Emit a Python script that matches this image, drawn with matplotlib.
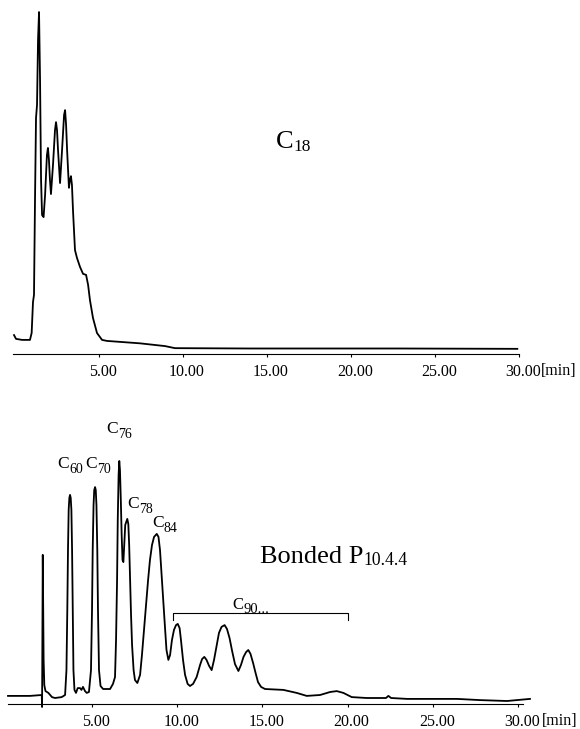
import matplotlib
matplotlib.use('Agg')
import matplotlib.pyplot as plt
import matplotlib.transforms as mtransforms
import numpy as np

plt.rcParams['font.family'] = ['Liberation Serif', 'DejaVu Serif']

# C18 column trace (time in min, detector response in arbitrary units)
c18_time = [-0.06, 0.06, 0.42, 0.89, 0.99, 1.07, 1.13, 1.19, 1.25, 1.31, 1.37, 1.43,
            1.49, 1.55, 1.61, 1.70, 1.79, 1.90, 1.96, 2.02, 2.08, 2.14, 2.26, 2.38,
            2.44, 2.50, 2.56, 2.68, 2.80, 2.92, 2.98, 3.04, 3.10, 3.21, 3.27, 3.33,
            3.39, 3.45, 3.51, 3.57, 3.69, 3.87, 4.05, 4.23, 4.35, 4.46, 4.64, 4.88,
            5.18, 5.48, 7.44, 8.93, 9.52, 13.99, 22.9, 29.9]
c18_signal = [5.5, 4.4, 4.1, 4.1, 6.1, 15.1, 17.2, 44.8, 68.6, 72.4, 91.3, 99.4,
              79.7, 50.6, 40.4, 39.8, 46.2, 57.8, 59.9, 56.4, 50.6, 46.5, 54.9, 65.1,
              67.4, 65.1, 59.3, 49.7, 59.3, 69.5, 70.9, 66.6, 59.3, 48.3, 50.6, 51.7,
              49.1, 41.9, 36.0, 30.2, 27.9, 25.3, 23.3, 23.0, 20.1, 15.7, 10.5, 6.1,
              4.1, 3.8, 3.1, 2.3, 1.7, 1.6, 1.6, 1.5]

# Bonded P10.4.4 column trace
bonded_time = [0.07, 1.36, 2.05, 2.07, 2.09, 2.11, 2.13, 2.16, 2.20, 2.27, 2.44, 2.65,
               2.83, 3.22, 3.42, 3.50, 3.55, 3.59, 3.63, 3.67, 3.71, 3.75, 3.79, 3.83,
               3.87, 3.91, 3.97, 4.06, 4.16, 4.30, 4.38, 4.47, 4.59, 4.69, 4.82, 4.94,
               5.00, 5.04, 5.09, 5.13, 5.18, 5.22, 5.26, 5.31, 5.35, 5.41, 5.50, 5.65,
               6.06, 6.23, 6.35, 6.41, 6.47, 6.51, 6.56, 6.60, 6.64, 6.69, 6.74, 6.79,
               6.84, 6.89, 6.95, 7.01, 7.07, 7.13, 7.18, 7.23, 7.29, 7.35, 7.44, 7.52,
               7.66, 7.82, 7.93, 8.05, 8.17, 8.29, 8.40, 8.52, 8.64, 8.80, 8.90, 8.99,
               9.09, 9.17, 9.28, 9.37, 9.48, 9.58, 9.69, 9.81, 9.93, 10.03, 10.14, 10.22,
               10.34, 10.46, 10.61, 10.75, 10.93, 11.14, 11.34, 11.46, 11.59, 11.72, 11.87, 12.02,
               12.16, 12.32, 12.45, 12.60, 12.78, 12.92, 13.07, 13.22, 13.39, 13.59, 13.74, 13.89,
               14.04, 14.17, 14.30, 14.45, 14.60, 14.74, 14.92, 15.15, 16.23, 17.01, 17.60, 18.38,
               18.97, 19.36, 19.75, 20.24, 21.12, 22.25, 22.39, 22.55, 23.49, 26.42, 27.77, 29.35,
               30.70]
bonded_signal = [2.7, 2.7, 3.0, -1.0, 28.0, 49.7, 34.7, 14.7, 6.3, 4.3, 3.7, 2.3,
                 2.0, 2.3, 3.0, 11.3, 31.3, 51.3, 64.7, 68.7, 69.7, 68.7, 64.7, 51.3,
                 31.3, 11.3, 4.7, 3.7, 5.3, 5.3, 4.7, 5.7, 4.3, 3.7, 4.0, 11.3,
                 31.3, 51.3, 66.3, 71.3, 72.3, 71.3, 66.3, 51.3, 31.3, 11.3, 6.0, 5.0,
                 5.0, 6.7, 9.0, 21.3, 41.3, 61.3, 76.3, 81.0, 78.0, 68.0, 56.3, 48.0,
                 47.3, 53.0, 59.7, 60.7, 61.7, 60.0, 53.0, 42.3, 29.7, 19.7, 11.3, 8.0,
                 7.0, 9.7, 16.3, 24.7, 33.0, 41.3, 48.0, 53.0, 55.7, 56.7, 55.7, 51.3,
                 42.3, 34.7, 25.7, 18.0, 14.7, 16.3, 21.3, 24.7, 26.3, 26.7, 25.3, 21.3,
                 14.7, 9.7, 6.7, 6.0, 6.7, 9.0, 13.0, 15.0, 15.7, 14.7, 12.7, 11.3,
                 14.7, 19.7, 23.7, 25.7, 26.3, 25.0, 22.0, 17.7, 13.3, 11.0, 13.0, 15.7,
                 17.3, 18.0, 16.7, 13.7, 10.3, 7.3, 5.7, 5.0, 4.7, 3.7, 2.7, 3.0,
                 4.0, 4.3, 3.7, 2.3, 2.0, 2.0, 2.7, 2.0, 1.7, 1.7, 1.3, 1.0,
                 1.7]

peak_names = ['60', '70', '76', '78', '84']
peak_times = [3.71, 5.18, 6.60, 7.07, 8.80]
# label offsets (points) from each apex
peak_label_offsets = [(-9.4, 19.4), (-7.2, 13.7), (-9.4, 20.2), (0.0, 7.9), (-3.6, 5.0)]

c90_range = [9.75, 20.02]
c90_level = 30.3

tick_values = [5, 10, 15, 20, 25, 30]
tick_labels = ['5.00', '10.00', '15.00', '20.00', '25.00', '30.00']

fig = plt.figure(figsize=(5.8, 7.29), dpi=100)
ax_top = fig.add_axes([13 / 580, 375 / 729, 506 / 580, 344 / 729])
ax_bot = fig.add_axes([8 / 580, 25 / 729, 515 / 580, 300 / 729])

label_shift = mtransforms.ScaledTranslation(4 / 100, 0, fig.dpi_scale_trans)


def style_axis(ax, xlim):
    ax.set_xlim(*xlim)
    ax.set_ylim(0, 100)
    for side in ['left', 'right', 'top']:
        ax.spines[side].set_visible(False)
    ax.spines['bottom'].set_linewidth(0.8)
    ax.set_yticks([])
    ax.set_xticks(tick_values)
    ax.set_xticklabels(tick_labels)
    ax.tick_params(axis='x', direction='out', length=2.2, width=0.8,
                   pad=5.0, labelsize=11.5)
    for lbl in ax.get_xticklabels():
        lbl.set_transform(lbl.get_transform() + label_shift)
    ax.patch.set_visible(False)


def sub_text(ax, main, sub, xy, offset, size, sub_size, drop, xycoords='data'):
    # main letter, then a subscript placed at the right-bottom of its box
    t = ax.annotate(main, xy=xy, xycoords=xycoords, xytext=offset,
                    textcoords='offset points', fontsize=size,
                    ha='left', va='baseline', annotation_clip=False)
    ax.annotate(sub, xy=(1, 0), xycoords=t, xytext=(0.3, -drop),
                textcoords='offset points', fontsize=sub_size,
                ha='left', va='bottom', annotation_clip=False)


style_axis(ax_top, (-0.12, 30))
style_axis(ax_bot, (0.07, 30.29))

ax_top.plot(c18_time, c18_signal, color='black', lw=1.3, clip_on=False,
            solid_joinstyle='round')
ax_bot.plot(bonded_time, bonded_signal, color='black', lw=1.3, clip_on=False,
            solid_joinstyle='round')

# [min] unit after the last tick label
ax_top.annotate('[min]', xy=(30, 0), xytext=(15.8, -15.0), textcoords='offset points',
                fontsize=11.5, ha='left', va='baseline', annotation_clip=False)
ax_bot.annotate('[min]', xy=(30, 0), xytext=(17.3, -15.0), textcoords='offset points',
                fontsize=11.5, ha='left', va='baseline', annotation_clip=False)

# column names
sub_text(ax_top, 'C', '18', (15.5, 59.9), (0, 0), 19, 12.5, 1.5)
sub_text(ax_bot, 'Bonded P', '10.4.4', (14.86, 47.0), (0, 0), 19, 12.7, 0.8)

# fullerene peak labels
for name, t, off in zip(peak_names, peak_times, peak_label_offsets):
    apex = np.interp(t, bonded_time, bonded_signal)
    sub_text(ax_bot, 'C', name, (t, apex), off, 12.5, 10, 3.1)

# bracket for higher fullerenes
ax_bot.plot([c90_range[0], c90_range[0], c90_range[1], c90_range[1]],
            [c90_level - 2.3, c90_level, c90_level, c90_level - 2.3],
            color='black', lw=0.8)
sub_text(ax_bot, 'C', '90...', (13.22, c90_level + 1.3), (0, 0), 12, 10.5, 1.9)

fig.savefig('out.png', dpi=100)
